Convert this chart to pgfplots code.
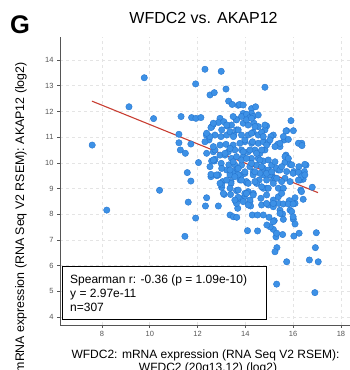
\documentclass[border=0pt]{standalone}
\usepackage{fontspec}
\setmainfont{Liberation Sans}
\usepackage{pgfplots}
\pgfplotsset{compat=1.18}
\definecolor{pt}{RGB}{61,145,230}
\definecolor{ptedge}{RGB}{38,118,208}
\definecolor{fitred}{RGB}{200,62,50}
\definecolor{gridc}{RGB}{228,228,228}
\definecolor{axc}{RGB}{85,85,85}
\begin{document}
\begin{tikzpicture}
\useasboundingbox (0,0) rectangle (350bp,370bp);
\clip (0,0) rectangle (350bp,370bp);
\begin{axis}[at={(60bp,45bp)}, anchor=south west, scale only axis,
  width=290bp, height=288bp,
  xmin=6.243, xmax=18.38, ymin=3.69, ymax=14.895,
  axis x line*=bottom, axis y line*=left,
  axis line style={axc, line width=0.8bp, -},
  xtick={8,10,12,14,16,18}, ytick={4,5,6,7,8,9,10,11,12,13,14},
  tick align=outside, major tick length=3bp,
  tick style={axc, line width=0.6bp},
  grid=major, major grid style={gridc, dashed, line width=0.6bp},
  tick label style={font=\fontsize{7.5bp}{9bp}\selectfont, text=axc},
  /pgf/number format/assume math mode=true,
]
\addplot[only marks, mark=*, mark size=3.2bp, mark options={fill=pt, draw=ptedge, line width=0.4bp}] table {
x y
7.59 10.69
9.77 13.31
9.13 12.18
10.16 11.72
8.20 8.16
10.41 8.93
11.31 11.80
11.75 11.76
11.93 11.73
12.14 11.76
11.22 11.11
11.22 10.78
11.28 10.50
11.49 10.37
11.72 10.73
12.04 10.01
11.57 9.62
11.72 9.29
11.61 8.47
11.92 7.85
11.47 7.14
12.38 8.64
12.33 8.32
12.87 8.32
12.37 11.08
12.48 10.89
12.60 11.41
12.66 10.43
12.70 10.07
12.56 9.46
12.81 9.50
12.94 11.73
13.01 9.04
13.05 9.27
13.36 7.97
13.50 7.90
13.64 7.88
14.09 7.36
14.51 7.35
14.29 7.97
14.51 7.97
14.75 7.97
14.99 7.88
15.17 7.41
15.28 7.12
15.32 6.70
15.56 7.21
15.84 8.53
16.08 8.64
16.08 8.42
15.87 8.16
16.01 7.80
16.08 7.62
16.03 7.15
16.25 7.26
16.32 8.94
16.42 8.58
16.80 9.05
16.97 7.28
16.93 6.70
16.42 9.36
16.47 9.66
16.54 9.91
16.36 10.76
16.01 11.25
15.91 11.64
15.73 11.25
15.63 10.89
15.70 10.30
15.66 10.02
15.87 9.94
16.03 9.66
16.24 9.85
16.28 9.33
15.66 9.40
15.38 9.72
15.17 9.33
15.38 9.01
15.59 9.01
14.89 9.01
14.75 9.01
14.65 8.62
14.89 8.75
15.17 8.55
14.96 8.36
15.17 8.29
15.40 8.42
15.45 8.16
15.56 8.01
15.21 7.75
15.04 7.51
14.90 7.58
14.22 8.32
14.19 8.49
13.96 8.68
13.78 8.59
13.61 8.49
13.68 8.23
13.38 8.77
13.11 8.77
13.63 8.92
14.12 8.88
14.33 8.81
14.05 9.23
13.78 9.33
13.40 9.27
13.50 9.53
13.84 9.53
14.33 9.65
14.58 9.33
14.89 9.33
15.10 9.53
14.75 9.53
12.31 13.64
12.99 13.56
11.92 13.07
13.19 12.87
14.82 12.94
12.52 12.64
12.70 12.73
13.30 12.40
13.45 12.27
13.70 12.24
13.76 12.27
14.26 12.11
14.43 12.18
13.91 11.92
14.26 11.92
12.66 11.50
12.56 11.37
12.87 11.57
13.10 11.60
13.24 11.43
13.42 11.47
13.61 11.69
12.73 11.08
12.98 11.02
13.22 11.08
13.36 11.21
13.52 11.08
13.63 11.28
12.94 10.69
13.19 10.72
13.49 10.69
13.56 10.50
12.94 10.30
13.15 10.30
13.29 10.43
13.42 10.17
13.63 10.24
12.73 10.14
12.59 10.07
12.99 9.98
13.31 9.92
13.56 9.92
13.22 9.72
13.49 9.66
13.66 9.76
12.56 9.55
12.87 9.53
13.36 9.53
13.70 9.53
13.00 9.14
13.40 9.20
13.91 12.25
13.84 11.80
14.05 11.89
14.19 11.76
14.33 11.80
13.91 11.54
14.12 11.47
14.36 11.54
14.54 11.41
14.89 11.43
14.82 11.28
15.70 11.24
15.59 11.02
15.17 11.08
15.07 11.02
15.35 10.72
15.45 10.63
16.22 10.76
16.37 10.67
15.80 10.91
13.84 11.08
14.12 11.08
14.33 11.19
14.54 11.08
14.68 11.19
13.98 10.82
14.26 10.76
14.54 10.76
14.75 10.82
14.96 10.80
13.84 10.50
14.12 10.43
14.40 10.50
14.61 10.37
14.82 10.50
13.91 10.24
14.26 10.17
14.54 10.17
14.75 10.07
15.66 10.24
15.80 10.17
15.94 9.92
16.49 9.94
15.10 9.91
15.31 9.79
15.45 9.72
13.84 9.91
14.19 9.85
14.47 9.91
14.75 9.79
14.96 9.72
13.98 9.59
14.33 9.53
14.61 9.59
15.03 9.53
15.24 9.40
15.73 9.66
16.00 9.59
16.22 9.63
16.35 9.46
16.49 9.53
14.05 9.27
14.47 9.20
15.17 9.20
15.52 9.27
15.87 9.27
16.22 9.33
13.98 8.81
14.19 8.55
14.33 8.75
14.68 8.36
14.89 8.42
15.17 8.42
15.38 8.68
15.52 8.81
16.35 8.88
15.59 8.40
15.80 8.40
16.00 8.40
15.17 7.71
15.45 8.03
15.59 7.80
15.94 8.10
16.00 7.90
15.31 7.26
15.24 6.54
15.73 6.15
16.68 6.22
17.05 6.15
15.31 5.28
16.91 4.95
13.63 8.42
13.70 8.66
12.66 11.54
13.01 11.28
13.22 11.47
13.50 11.02
13.70 11.28
14.05 11.67
14.26 11.15
14.40 11.41
14.30 10.82
13.98 10.89
13.77 10.76
13.36 10.56
13.15 10.37
12.73 10.50
13.91 10.43
14.19 10.50
14.47 10.37
14.68 10.50
13.84 10.11
14.05 10.17
14.26 9.98
13.49 10.04
13.01 9.78
13.36 9.72
13.70 9.78
13.98 9.65
14.40 9.65
14.68 9.85
14.89 9.59
15.10 9.65
15.31 9.40
13.56 9.46
13.84 9.33
14.12 9.20
14.40 9.27
14.68 9.07
14.96 9.01
13.22 9.33
12.94 9.20
13.36 9.01
13.70 8.94
14.05 8.81
13.08 8.81
13.56 8.55
13.91 8.49
14.12 8.36
12.66 10.63
12.52 11.02
12.38 11.15
12.31 10.82
12.66 10.11
12.52 9.85
12.80 9.53
12.38 10.37
15.45 10.76
15.24 10.63
15.03 10.89
14.89 10.69
14.96 10.11
15.24 10.04
15.52 9.85
14.61 10.11
14.75 11.02
13.63 11.67
13.49 11.80
14.26 11.73
14.54 11.86
14.82 11.47
};
\addplot[fitred, line width=1.1bp] coordinates {(7.58,12.40) (17.04,8.84)};
\end{axis}
\draw[black, line width=0.9bp, fill=white] (62bp,51bp) rectangle (266bp,104bp);
\node[anchor=base west, inner sep=0, font=\fontsize{12bp}{14bp}\selectfont] at (70bp,86.3bp) {Spearman r: -0.36 (p = 1.09e-10)};
\node[anchor=base west, inner sep=0, font=\fontsize{12bp}{14bp}\selectfont] at (70bp,72.5bp) {y = 2.97e-11};
\node[anchor=base west, inner sep=0, font=\fontsize{12bp}{14bp}\selectfont] at (70bp,58.3bp) {n=307};
\node[anchor=base, inner sep=0, font=\fontsize{16bp}{18bp}\selectfont] at (203.5bp,346bp) {WFDC2 vs. AKAP12};
\node[anchor=base, inner sep=0, font=\fontsize{25.5bp}{28bp}\selectfont\bfseries] at (20bp,336.7bp) {G};
\node[anchor=base, inner sep=0, font=\fontsize{12bp}{14bp}\selectfont] at (205.5bp,11.7bp) {WFDC2: mRNA expression (RNA Seq V2 RSEM):};
\node[anchor=base, inner sep=0, font=\fontsize{12bp}{14bp}\selectfont] at (208bp,-1bp) {WFDC2 (20q13.12) (log2)};
\node[anchor=base east, rotate=90, inner sep=0, font=\fontsize{12.4bp}{14bp}\selectfont] at (24bp,308bp) {AKAP12: mRNA expression (RNA Seq V2 RSEM): AKAP12 (log2)};
\end{tikzpicture}
\end{document}
